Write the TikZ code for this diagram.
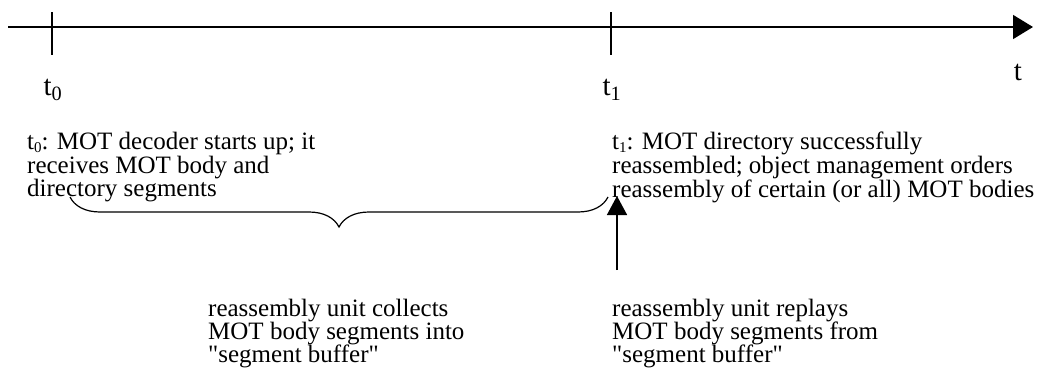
\documentclass[tikz,border=0pt]{standalone}
\usepackage{fontspec}
\setmainfont{Liberation Serif}
\usepackage{tikz}
\usetikzlibrary{arrows.meta,positioning,decorations.pathreplacing}

\newcommand{\tsub}[1]{t\raisebox{-2.5pt}{\fontsize{15}{15}\selectfont #1}}

\begin{document}
\begin{tikzpicture}[x=1pt,y=-1pt,>={Triangle[length=20pt,width=24pt]},
    font=\fontsize{25}{22}\selectfont]
  \useasboundingbox (0,0) rectangle (1037,383);

  % time axis
  \coordinate (axisL) at (8,27);
  \coordinate (axisR) at (1033,27);
  \draw[->,line width=1.5pt] (axisL) -- (axisR);
  \node[font=\fontsize{29}{29}\selectfont] (tlbl) at (1018,72) {t};

  % instants t0 and t1
  \draw[line width=1.5pt] (52,12) -- (52,55);
  \draw[line width=1.5pt] (611,12) -- (611,55);
  \node[font=\fontsize{29}{29}\selectfont] (t0lbl) at (53,90) {t\textsubscript{0}};
  \node[font=\fontsize{29}{29}\selectfont] (t1lbl) at (612,90) {t\textsubscript{1}};

  \node[anchor=north west,inner sep=0pt,align=left] (t0txt) at (27,132)
       {\tsub{0}: MOT decoder starts up; it\\
        receives MOT body and\\
        directory segments};
  \node[anchor=north west,inner sep=0pt,align=left] (t1txt) at (612,132)
       {\tsub{1}: MOT directory successfully\\
        reassembled; object management orders\\
        reassembly of certain (or all) MOT bodies};

  % collecting phase
  \coordinate (braceL) at (70,197);
  \coordinate (braceR) at (608,197);
  \draw[decorate,decoration={brace,mirror,amplitude=30pt},line width=1.2pt]
       (braceL) -- (braceR);
  \node[anchor=north west,inner sep=0pt,align=left,
        font=\fontsize{25}{23}\selectfont] (collect) at (208,299)
       {reassembly unit collects\\
        MOT body segments into\\
        \textquotedbl segment buffer\textquotedbl};

  % replay phase
  \node[anchor=north west,inner sep=0pt,align=left,
        font=\fontsize{25}{23}\selectfont] (replay) at (612,299)
       {reassembly unit replays\\
        MOT body segments from\\
        \textquotedbl segment buffer\textquotedbl};
  \coordinate (replayfoot) at (617,270);
  \coordinate (replaytip) at (617,196);
  \draw[->,>={Triangle[length=19pt,width=20pt]},line width=1.5pt]
       (replayfoot) -- (replaytip);
\end{tikzpicture}
\end{document}
